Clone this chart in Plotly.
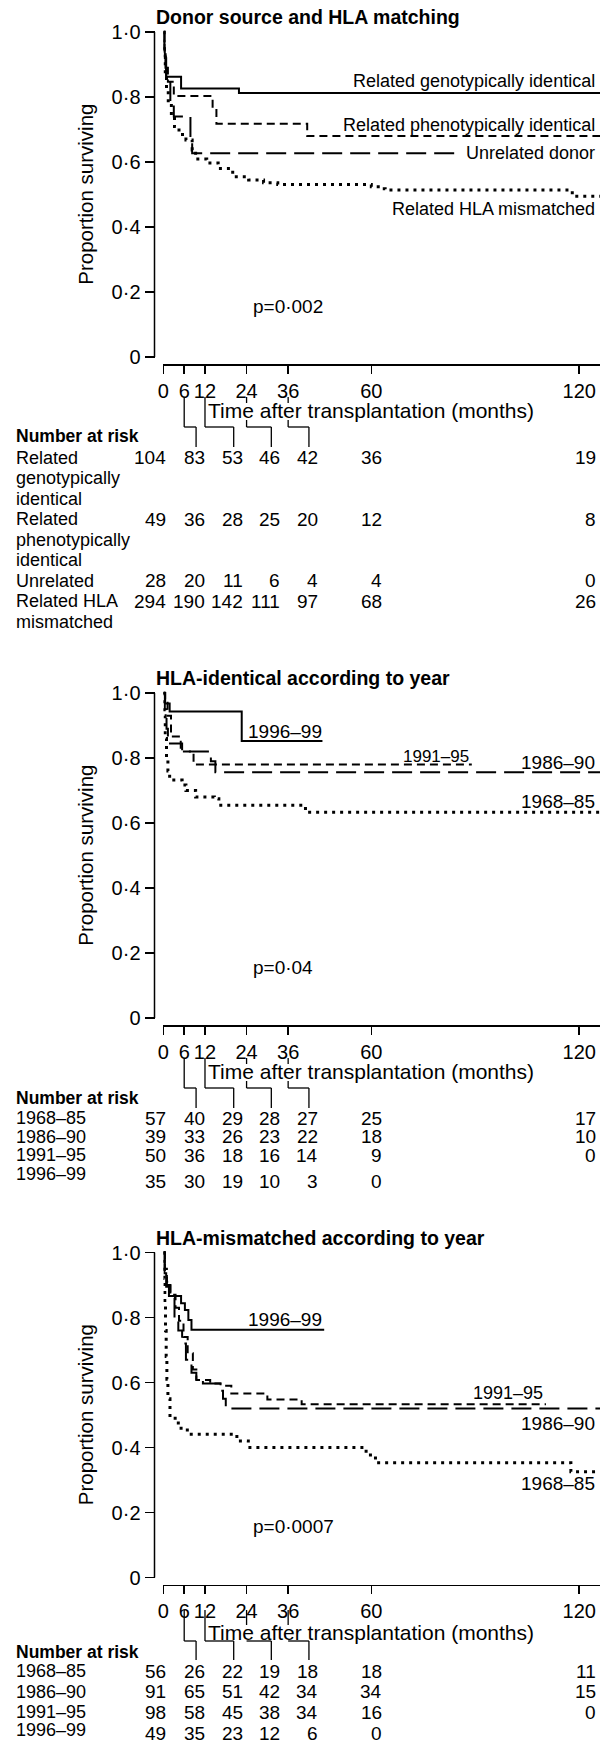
import plotly.graph_objects as go

# ---------------- data ----------------
month_ticks = [0, 6, 12, 24, 36, 60, 120]
surv_ticks = [0, 0.2, 0.4, 0.6, 0.8, 1.0]
surv_tick_text = ["0", "0·2", "0·4", "0·6", "0·8", "1·0"]
risk_months = [0, 6, 12, 24, 36, 60, 120]

# Panel 1 : donor source and HLA matching
p1_title = "Donor source and HLA matching"
p1_pvalue = "p=0·002"
geno_t = [0, 0.2, 0.4, 0.6, 0.8, 5.1, 21.8, 126]
geno_s = [1.0, 0.95, 0.92, 0.89, 0.862, 0.826, 0.812, 0.812]
pheno_t = [0, 0.3, 0.7, 1.3, 3.0, 14.2, 15.3, 41.5, 126]
pheno_s = [1.0, 0.94, 0.89, 0.847, 0.803, 0.76, 0.718, 0.68, 0.68]
unrel_t = [0, 0.3, 0.8, 2.0, 3.0, 7.8, 8.3, 85]
unrel_s = [1.0, 0.93, 0.86, 0.78, 0.74, 0.68, 0.627, 0.627]
mism_t = [0, 0.2, 0.5, 0.9, 1.4, 2.3, 3.2, 4.5, 6.5, 8.3, 9.3, 12.5, 15.8, 20, 24.6,
          28.9, 33, 60, 62, 64, 118, 126]
mism_s = [1.0, 0.93, 0.87, 0.82, 0.78, 0.74, 0.709, 0.685, 0.668, 0.637, 0.609, 0.597,
          0.58, 0.555, 0.545, 0.536, 0.531, 0.524, 0.518, 0.514, 0.495, 0.495]
p1_labels = ["Related genotypically identical", "Related phenotypically identical",
             "Unrelated donor", "Related HLA mismatched"]
p1_rows = [["Related", "genotypically", "identical"],
           ["Related", "phenotypically", "identical"],
           ["Unrelated"],
           ["Related HLA", "mismatched"]]
p1_risk = [[104, 83, 53, 46, 42, 36, 19],
           [49, 36, 28, 25, 20, 12, 8],
           [28, 20, 11, 6, 4, 4, 0],
           [294, 190, 142, 111, 97, 68, 26]]

# Panel 2 : HLA-identical according to year
p2_title = "HLA-identical according to year"
p2_pvalue = "p=0·04"
i9699_t = [0, 0.5, 1.8, 22.6, 45.9]
i9699_s = [1.0, 0.968, 0.943, 0.852, 0.852]
i8690_t = [0, 0.4, 0.9, 1.3, 5.4, 13.7, 15.0, 126]
i8690_s = [1.0, 0.95, 0.89, 0.845, 0.82, 0.79, 0.756, 0.756]
i9195_t = [0, 0.5, 1.2, 2.2, 5.0, 8.7, 89]
i9195_s = [1.0, 0.97, 0.93, 0.866, 0.82, 0.78, 0.78]
i6885_t = [0, 0.2, 0.5, 0.9, 1.3, 1.8, 5.4, 6.5, 9.3, 14.7, 16, 41, 126]
i6885_s = [1.0, 0.93, 0.86, 0.80, 0.76, 0.732, 0.717, 0.70, 0.68, 0.675, 0.655, 0.633, 0.633]
p2_labels = ["1996–99", "1991–95", "1986–90", "1968–85"]
p2_rows = ["1968–85", "1986–90", "1991–95", "1996–99"]
p2_risk = [[57, 40, 29, 28, 27, 25, 17],
           [39, 33, 26, 23, 22, 18, 10],
           [50, 36, 18, 16, 14, 9, 0],
           [35, 30, 19, 10, 3, 0]]

# Panel 3 : HLA-mismatched according to year
p3_title = "HLA-mismatched according to year"
p3_pvalue = "p=0·0007"
m9699_t = [0, 0.3, 0.8, 1.6, 5.1, 6.2, 7.2, 8.1, 46.4]
m9699_s = [1.0, 0.936, 0.895, 0.866, 0.844, 0.823, 0.792, 0.762, 0.762]
m8690_t = [0, 0.4, 1.0, 2.0, 3.2, 4.3, 5.4, 6.5, 8.1, 9.5, 11.4, 16.4, 17.2, 18.0, 126]
m8690_s = [1.0, 0.94, 0.90, 0.86, 0.80, 0.76, 0.72, 0.67, 0.63, 0.61, 0.597, 0.575,
           0.55, 0.52, 0.52]
m9195_t = [0, 0.4, 1.0, 2.0, 3.5, 4.5, 5.8, 7.0, 8.5, 9.5, 13.5, 16.5, 19.6, 30, 39.9, 110.4]
m9195_s = [1.0, 0.95, 0.91, 0.87, 0.83, 0.79, 0.74, 0.69, 0.64, 0.608, 0.597, 0.59,
           0.566, 0.548, 0.533, 0.533]
m6885_t = [0, 0.2, 0.4, 0.6, 0.8, 1.0, 1.3, 1.9, 4.3, 6.9, 21.2, 24.5, 58.5, 61.2,
           117.6, 126]
m6885_s = [1.0, 0.92, 0.84, 0.76, 0.68, 0.61, 0.55, 0.49, 0.459, 0.441, 0.42, 0.40,
           0.377, 0.353, 0.325, 0.325]
p3_labels = ["1996–99", "1991–95", "1986–90", "1968–85"]
p3_rows = ["1968–85", "1986–90", "1991–95", "1996–99"]
p3_risk = [[56, 26, 22, 19, 18, 18, 11],
           [91, 65, 51, 42, 34, 34, 15],
           [98, 58, 45, 38, 34, 16, 0],
           [49, 35, 23, 12, 6, 0]]

# ---------------- layout constants (pixels) ----------------
W, H = 600, 1746
FONT = "Liberation Sans, Arial, Helvetica, sans-serif"
X0_PX = 159            # month 0
PX_PER_MONTH = 3.5
YAX_PX = 150           # y-axis line
S1_PX, S0_PX = 32, 357 # survival 1 and 0 in panel 1
XAX_PX = 364           # x-axis line in panel 1
PAD = 0.04
DY = [0, 661, 1220.5]
COL_RIGHT = [163, 202, 240, 278, 316, 381, 597]
TITLE_X = 203

# per-panel absolute pixel positions of the lower block
BOTTOM = [
    dict(time=410, br=(397, 427, 447), risk=436, rows=None, last=None),
    dict(time=1071, br=(1058, 1088, 1108), risk=1098,
         rows=[1118, 1136.5, 1155, 1174], last=1181.5),
    dict(time=1632, br=(1610, 1641, 1660), risk=1652,
         rows=[1671, 1691.5, 1712, 1730], last=1733),
]

SOLID = dict(dash="solid", width=2)
SHORT = dict(dash="8px,5px", width=2)
LONG = dict(dash="20px,8px", width=2)
DOT = dict(dash="3px,5px", width=3)


def fx(px):
    return px / W


def fy(px):
    return 1 - px / H


def mx(m):
    return X0_PX + m * PX_PER_MONTH


panels = [
    dict(title=p1_title, p=p1_pvalue,
         series=[(geno_t, geno_s, SOLID), (pheno_t, pheno_s, SHORT),
                 (unrel_t, unrel_s, LONG), (mism_t, mism_s, DOT)],
         labels=list(zip(p1_labels, [596, 596, 596, 596], [81, 125, 152.7, 209.3],
                         [18, 18, 18, 18]))),
    dict(title=p2_title, p=p2_pvalue,
         series=[(i9699_t, i9699_s, SOLID), (i9195_t, i9195_s, SHORT),
                 (i8690_t, i8690_s, LONG), (i6885_t, i6885_s, DOT)],
         labels=list(zip(p2_labels, [320, 469, 596, 596], [70.7, 95.7, 101.7, 140.7],
                         [19, 17, 19, 19]))),
    dict(title=p3_title, p=p3_pvalue,
         series=[(m9699_t, m9699_s, SOLID), (m9195_t, m9195_s, SHORT),
                 (m8690_t, m8690_s, LONG), (m6885_t, m6885_s, DOT)],
         labels=list(zip(p3_labels, [320, 543, 596, 596], [98.5, 172.2, 202.5, 262.5],
                         [19, 18, 19, 19]))),
]

fig = go.Figure()
shapes = []
annotations = []


def txt(text, x, y, size, xanchor="left", bold=False, angle=0):
    annotations.append(dict(
        text=("<b>%s</b>" % text) if bold else text, x=fx(x), y=fy(y),
        xref="paper", yref="paper", xanchor=xanchor, yanchor="middle",
        showarrow=False, textangle=angle,
        font=dict(family=FONT, size=size, color="black"), borderpad=0))


def seg(a, b, c, d, w=1.3):
    shapes.append(dict(type="line", xref="paper", yref="paper",
                       x0=fx(a), x1=fx(c), y0=fy(b), y1=fy(d),
                       line=dict(color="black", width=w)))


for k, (pan, dy, bot) in enumerate(zip(panels, DY, BOTTOM)):
    sfx = "" if k == 0 else str(k + 1)
    ppu = S0_PX - S1_PX
    top_px = S1_PX + dy - PAD * ppu
    bot_px = S0_PX + dy + PAD * ppu
    fig.layout["xaxis" + sfx] = dict(
        domain=[fx(X0_PX), 1], range=[0, (W - X0_PX) / PX_PER_MONTH],
        anchor="free", position=fy(XAX_PX + dy),
        showline=True, linecolor="black", linewidth=1.5,
        ticks="outside", ticklen=8, tickwidth=1.5, tickcolor="black",
        tickvals=month_ticks, ticktext=[str(v) for v in month_ticks],
        tickfont=dict(family=FONT, size=20, color="black"),
        showgrid=False, zeroline=False, fixedrange=True)
    fig.layout["yaxis" + sfx] = dict(
        domain=[fy(bot_px), fy(top_px)], range=[-PAD, 1 + PAD],
        anchor="free", position=fx(YAX_PX),
        showline=False, ticks="outside", ticklen=10, tickwidth=1.5, tickcolor="black",
        tickvals=surv_ticks, ticktext=surv_tick_text,
        tickfont=dict(family=FONT, size=20, color="black"),
        showgrid=False, zeroline=False, fixedrange=True)

    for t, s, st in pan["series"]:
        fig.add_trace(go.Scatter(x=t, y=s, mode="lines", line_shape="hv",
                                 line=dict(color="black", **st),
                                 xaxis="x" + sfx, yaxis="y" + sfx,
                                 showlegend=False, hoverinfo="skip"))

    # y axis line
    seg(YAX_PX, S1_PX + dy, YAX_PX, S0_PX + dy, 1.5)
    # title, axis titles, p value
    txt(pan["title"], YAX_PX, 17.5 + dy, 19.5, bold=True)
    txt("Proportion surviving", 80, (S1_PX + S0_PX) / 2 + dy, 20.5, xanchor="center", angle=-90)
    ty = bot["time"]
    txt("Time after transplantation (months)", TITLE_X, ty, 21)
    txt(pan["p"], 248, 306 + dy, 19)
    for text, xr, yy, sz in pan["labels"]:
        txt(text, xr, yy + dy, sz, xanchor="right")

    # brackets from ticks to number-at-risk columns
    b0, b1, b2 = bot["br"]
    for m, cr in zip(risk_months[1:5], COL_RIGHT[1:5]):
        xs = mx(m)
        xe = cr - 10
        if xs > TITLE_X:
            seg(xs, b0, xs, min(ty - 7, b1))
            if ty + 10 < b1:
                seg(xs, ty + 10, xs, b1)
        else:
            seg(xs, b0, xs, b1)
        seg(xs, b1, xe, b1)
        seg(xe, b1, xe, b2)

    txt("Number at risk", 9, bot["risk"], 17.5, bold=True)

# number at risk tables
line_y = [457.7 + 20.5 * i for i in range(9)]
li = 0
for lines, nums in zip(p1_rows, p1_risk):
    for j, ln in enumerate(lines):
        txt(ln, 9, line_y[li + j], 18)
    for v, cr in zip(nums, COL_RIGHT):
        txt(str(v), cr, line_y[li], 19, xanchor="right")
    li += len(lines)

for rows, risk, bot in [(p2_rows, p2_risk, BOTTOM[1]), (p3_rows, p3_risk, BOTTOM[2])]:
    for i, (name, nums) in enumerate(zip(rows, risk)):
        txt(name, 9, bot["rows"][i], 18)
        ny = bot["last"] if i == len(rows) - 1 else bot["rows"][i]
        for v, cr in zip(nums, COL_RIGHT):
            txt(str(v), cr, ny, 19, xanchor="right")

fig.update_layout(width=W, height=H, margin=dict(l=0, r=0, t=0, b=0, pad=0),
                  paper_bgcolor="white", plot_bgcolor="white",
                  shapes=shapes, annotations=annotations, showlegend=False,
                  font=dict(family=FONT, color="black"))
fig.write_html(
    "out.html",
    config={"displayModeBar": False, "staticPlot": True},
    post_script="document.body.style.margin='0';document.body.style.padding='0';"
                "document.body.style.overflow='hidden';"
                "document.documentElement.style.overflow='hidden';")
